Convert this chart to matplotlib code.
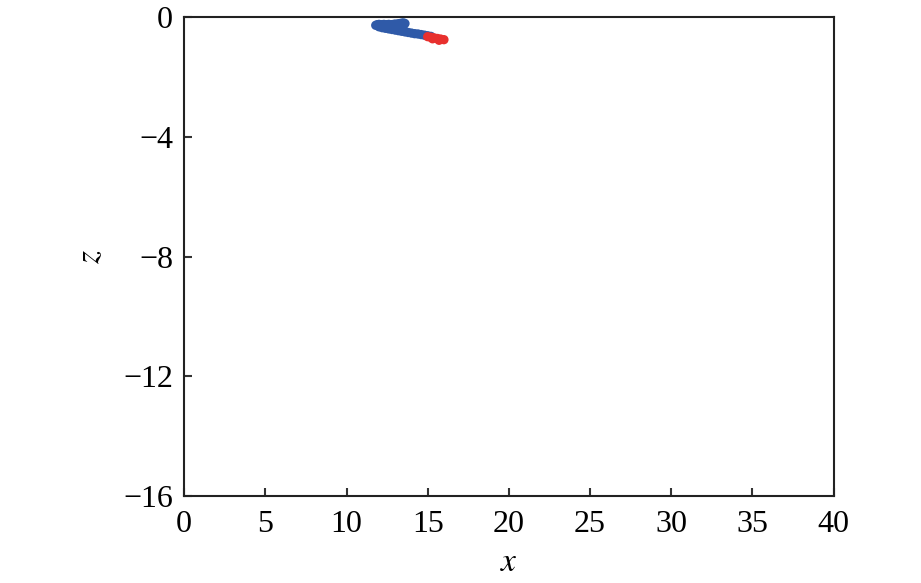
import matplotlib
matplotlib.use("Agg")
import matplotlib.pyplot as plt

plt.rcParams['font.family'] = ['Liberation Serif', 'DejaVu Serif']
plt.rcParams['mathtext.fontset'] = 'stix'

# blue points (x, z)
blue_x = [11.8, 11.9, 12.0, 12.1, 12.2, 12.3, 12.4, 12.5, 12.6, 12.7, 12.8, 12.9, 13.0,
          13.1, 13.2, 13.3, 13.4, 13.5, 13.6, 12.0, 12.2, 12.4, 12.6, 12.8, 13.0, 13.2,
          13.4, 13.6, 13.8, 14.0, 14.2, 14.4, 14.6, 14.8, 15.0, 15.2, 12.9, 13.1, 13.3, 13.5,
          12.3, 12.6, 12.9, 13.2]
blue_z = [-0.28, -0.26, -0.25, -0.27, -0.26, -0.25, -0.27, -0.26, -0.25, -0.27, -0.26, -0.25, -0.24,
          -0.25, -0.23, -0.22, -0.21, -0.2, -0.22, -0.33, -0.36, -0.38, -0.40, -0.42, -0.44, -0.46,
          -0.48, -0.50, -0.52, -0.54, -0.56, -0.57, -0.59, -0.61, -0.63, -0.65, -0.33, -0.35, -0.34, -0.30,
          -0.31, -0.33, -0.30, -0.38]
# red points (x, z)
red_x = [15.0, 15.2, 15.4, 15.6, 15.8, 16.0, 15.3, 15.7]
red_z = [-0.66, -0.68, -0.70, -0.72, -0.74, -0.76, -0.73, -0.78]

fig, ax = plt.subplots(figsize=(9.21, 5.83), dpi=100)
fig.subplots_adjust(left=0.2, right=0.905, top=0.971, bottom=0.149)

ax.scatter(blue_x, blue_z, s=45, color='#2f5aa8', edgecolors='none', zorder=3)
ax.scatter(red_x, red_z, s=45, color='#e8302e', edgecolors='none', zorder=3)

ax.set_xlim(0, 40)
ax.set_ylim(-16, 0)
ax.set_xticks(range(0, 41, 5))
ax.set_yticks([0, -4, -8, -12, -16])
ax.set_yticklabels(['0', '\u22124', '\u22128', '\u221212', '\u221216'])
ax.tick_params(direction='in', labelsize=23, length=6, width=1.5, color='#333333')
ax.tick_params(axis='x', pad=10)
ax.tick_params(axis='y', pad=8)
for s in ax.spines.values():
    s.set_linewidth(1.5)
    s.set_color('#222222')
ax.set_xlabel('$x$', fontsize=24, labelpad=6)
ax.set_ylabel('$z$', fontsize=24, labelpad=12)

plt.savefig("out.png", dpi=100)
